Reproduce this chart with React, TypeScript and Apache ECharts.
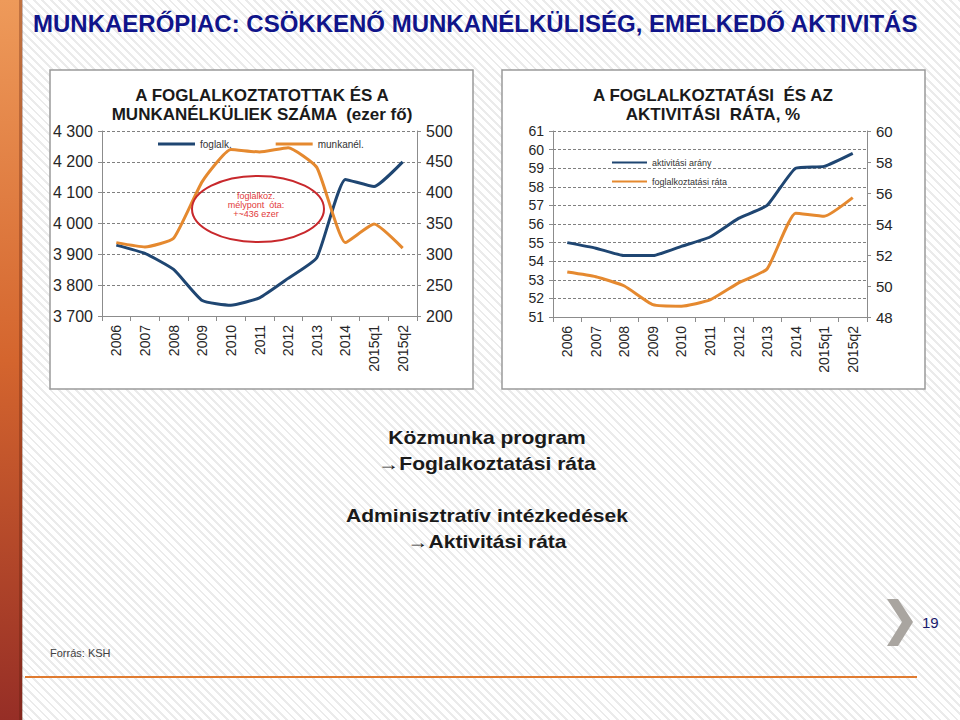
import React, { useEffect, useRef } from 'react';
import * as echarts from 'echarts';

const categories = ['2006', '2007', '2008', '2009', '2010', '2011', '2012', '2013', '2014', '2015q1', '2015q2'];
const foglalk = [3930, 3903, 3851, 3750, 3735, 3759, 3822, 3889, 4143, 4120, 4200];
const munkanel = [319, 312, 326, 418, 470, 466, 473, 441, 319, 349, 310];
const aktivitasi = [55.0, 54.7, 54.3, 54.3, 54.8, 55.3, 56.3, 57.0, 59.0, 59.1, 59.8];
const foglalkoztatasi = [50.9, 50.6, 50.0, 48.8, 48.7, 49.1, 50.2, 51.1, 54.7, 54.5, 55.7];

const FF = 'Liberation Sans, Arial, sans-serif';
const BLUE = '#1f4672';
const ORANGE = '#e5892f';
const AXIS = '#8c8c8c';

function xAxisFor(gridIndex: number) {
  return {
    gridIndex,
    type: 'category',
    data: categories,
    boundaryGap: true,
    axisLine: { lineStyle: { color: AXIS, width: 1 } },
    axisTick: { show: true, length: 5, interval: 0, lineStyle: { color: AXIS } },
    axisLabel: { rotate: 90, interval: 0, fontSize: 14, color: '#262626', fontFamily: FF, margin: 9 },
  };
}

function yAxisFor(gridIndex: number, position: string, min: number, max: number, interval: number, split: boolean, size: number, fmt?: (v: number) => string) {
  return {
    gridIndex,
    type: 'value',
    position,
    min,
    max,
    interval,
    axisLine: { show: true, lineStyle: { color: AXIS, width: 1 } },
    axisTick: { show: true, length: 4, lineStyle: { color: AXIS } },
    splitLine: { show: split, lineStyle: { type: [3, 2], color: '#808080', width: 1 } },
    axisLabel: { fontSize: size, color: '#262626', fontFamily: FF, margin: 9, formatter: fmt },
  };
}

const thousands = (v: number) => {
  const s = String(Math.round(v));
  return s.length > 3 ? s.slice(0, s.length - 3) + ' ' + s.slice(-3) : s;
};

function txt(x: number, y: number, text: string, size: number, color: string, weight: string, align = 'center', scaleX = 1) {
  return {
    type: 'text',
    x,
    y,
    z: 20,
    scaleX,
    style: { text, fill: color, fontSize: size, fontWeight: weight, fontFamily: FF, align, verticalAlign: 'middle' },
  };
}

export default function App() {
  const ref = useRef<HTMLDivElement>(null);
  useEffect(() => {
    const chart = echarts.init(ref.current!, null, { renderer: 'svg' });
    const option: any = {
      animation: false,
      backgroundColor: 'transparent',
      grid: [
        { left: 102, top: 131, width: 315, height: 185 },
        { left: 553, top: 131, width: 314, height: 186 },
      ],
      xAxis: [xAxisFor(0), xAxisFor(1)],
      yAxis: [
        yAxisFor(0, 'left', 3700, 4300, 100, true, 16, thousands),
        yAxisFor(0, 'right', 200, 500, 50, false, 16),
        yAxisFor(1, 'left', 51, 61, 1, true, 14),
        yAxisFor(1, 'right', 48, 60, 2, false, 15),
      ],
      legend: [
        {
          data: ['foglalk.', 'munkanél.'],
          left: 153,
          top: 134,
          icon: 'rect',
          itemWidth: 37,
          itemHeight: 3,
          itemGap: 44,
          textStyle: { fontSize: 10, color: '#333', fontFamily: FF },
        },
        {
          data: ['aktivitási arány', 'foglalkoztatási ráta'],
          orient: 'vertical',
          left: 607,
          top: 153,
          icon: 'rect',
          itemWidth: 35,
          itemHeight: 2,
          itemGap: 10,
          textStyle: { fontSize: 9, color: '#333', fontFamily: FF },
        },
      ],
      series: [
        { name: 'foglalk.', type: 'line', xAxisIndex: 0, yAxisIndex: 0, data: foglalk, smooth: 0.15, showSymbol: false, lineStyle: { color: BLUE, width: 3 }, itemStyle: { color: BLUE } },
        { name: 'munkanél.', type: 'line', xAxisIndex: 0, yAxisIndex: 1, data: munkanel, smooth: 0.15, showSymbol: false, lineStyle: { color: ORANGE, width: 3 }, itemStyle: { color: ORANGE } },
        { name: 'aktivitási arány', type: 'line', xAxisIndex: 1, yAxisIndex: 2, data: aktivitasi, smooth: 0.15, showSymbol: false, lineStyle: { color: BLUE, width: 3 }, itemStyle: { color: BLUE } },
        { name: 'foglalkoztatási ráta', type: 'line', xAxisIndex: 1, yAxisIndex: 3, data: foglalkoztatasi, smooth: 0.15, showSymbol: false, lineStyle: { color: ORANGE, width: 3 }, itemStyle: { color: ORANGE } },
      ],
      graphic: [
        // side stripe
        {
          type: 'rect', z: -10, shape: { x: 0, y: 0, width: 22, height: 720 },
          style: { fill: new echarts.graphic.LinearGradient(0, 0, 0, 1, [
            { offset: 0, color: '#ee9a5a' },
            { offset: 0.5, color: '#d4652e' },
            { offset: 1, color: '#962e26' },
          ]) },
        },
        { type: 'rect', z: -9, shape: { x: 19, y: 0, width: 4, height: 720 }, style: { fill: 'rgba(90,25,10,0.3)' } },
        // panels
        { type: 'rect', z: -8, shape: { x: 50, y: 70, width: 423, height: 319 }, style: { fill: '#ffffff', stroke: '#9a9a9a', lineWidth: 1.5 } },
        { type: 'rect', z: -8, shape: { x: 502, y: 70, width: 423, height: 319 }, style: { fill: '#ffffff', stroke: '#9a9a9a', lineWidth: 1.5 } },
        // slide title
        txt(33, 23, 'MUNKAERŐPIAC: CSÖKKENŐ MUNKANÉLKÜLISÉG, EMELKEDŐ AKTIVITÁS', 24, '#10148a', 'bold', 'left'),
        // panel titles
        txt(262, 95, 'A FOGLALKOZTATOTTAK ÉS A', 17, '#1a1a1a', 'bold'),
        txt(262, 114, 'MUNKANÉLKÜLIEK SZÁMA  (ezer fő)', 17, '#1a1a1a', 'bold'),
        txt(713, 95, 'A FOGLALKOZTATÁSI  ÉS AZ', 17, '#1a1a1a', 'bold'),
        txt(713, 114, 'AKTIVITÁSI  RÁTA, %', 17, '#1a1a1a', 'bold'),
        // annotation ellipse
        { type: 'ellipse', z: 20, shape: { cx: 258, cy: 209, rx: 66, ry: 33 }, style: { fill: 'none', stroke: '#c8282c', lineWidth: 2 } },
        txt(256, 196, 'foglalkoz.', 9, '#e23a3a', 'normal'),
        txt(256, 205, 'mélypont  óta:', 9, '#e23a3a', 'normal'),
        txt(256, 214, '+~436 ezer', 9, '#e23a3a', 'normal'),
        // middle text
        txt(487, 438, 'Közmunka program', 18, '#1a1a1a', 'bold', 'center', 1.17),
        txt(487, 464, '→Foglalkoztatási ráta', 18, '#1a1a1a', 'bold', 'center', 1.17),
        txt(487, 516, 'Adminisztratív intézkedések', 18, '#1a1a1a', 'bold', 'center', 1.17),
        txt(487, 542, '→Aktivitási ráta', 18, '#1a1a1a', 'bold', 'center', 1.17),
        // footer
        txt(50, 653, 'Forrás: KSH', 11, '#404040', 'normal', 'left'),
        { type: 'line', z: 5, shape: { x1: 25, y1: 677, x2: 917, y2: 677 }, style: { stroke: '#e07b30', lineWidth: 2 } },
        {
          type: 'polygon', z: 5,
          shape: { points: [[887, 599], [898, 599], [913, 622], [898, 646], [887, 646], [902, 622]] },
          style: { fill: '#a9a5a0' },
        },
        txt(922, 622, '19', 15, '#1a1a6e', 'normal', 'left'),
      ],
    };
    chart.setOption(option);
    return () => chart.dispose();
  }, []);
  return (
    <div
      ref={ref}
      style={{
        position: 'absolute',
        left: 0,
        top: 0,
        width: 960,
        height: 720,
        background: 'repeating-linear-gradient(45deg, #ffffff 0px, #ffffff 4px, #ebebeb 4px, #ebebeb 6px)',
      }}
    />
  );
}
